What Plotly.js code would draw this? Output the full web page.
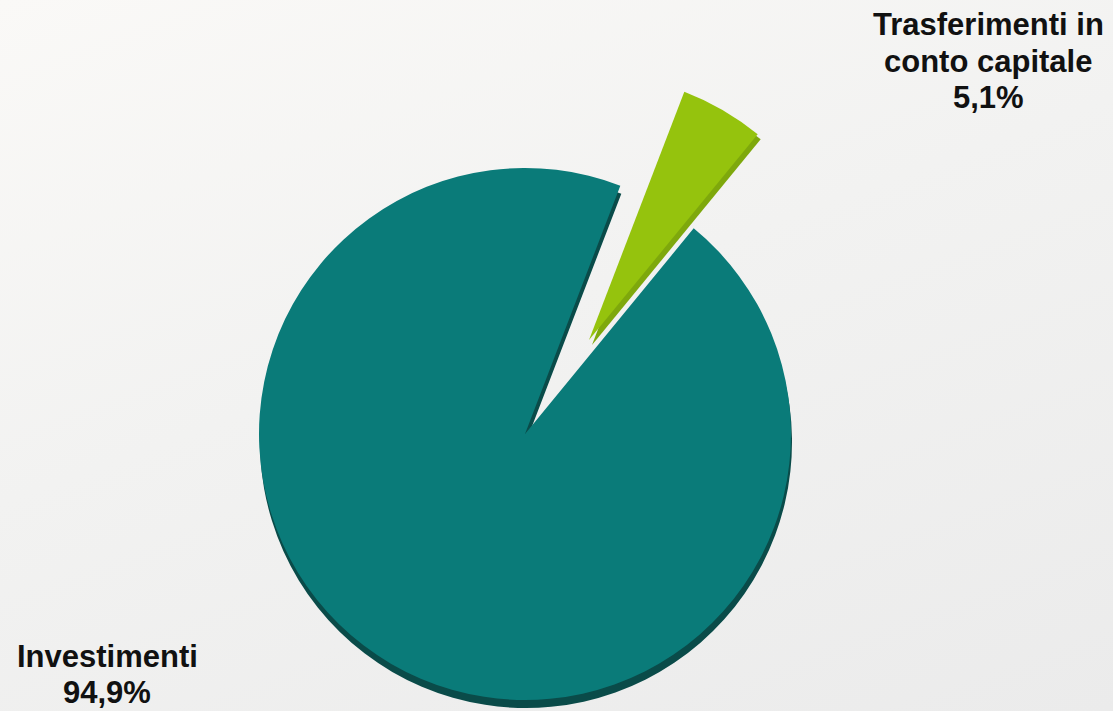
<!DOCTYPE html>
<html>
<head>
<meta charset="utf-8">
<script src="https://cdn.plot.ly/plotly-3.0.1.min.js"></script>
<style>
  html, body { margin: 0; padding: 0; }
  body { background: linear-gradient(160deg, #faf9f7 0%, #f2f2f1 45%, #ebebeb 100%); }
  #chart { width: 1113px; height: 711px; }
</style>
</head>
<body>
<div id="chart"></div>
<script>
// ---- data ----
var categories = ["Trasferimenti in conto capitale", "Investimenti"];
var labelLines = [["Trasferimenti in", "conto capitale"], ["Investimenti"]];
var values = [5.1, 94.9];
var valueLabels = ["5,1%", "94,9%"];

// ---- geometry / style (pixels) ----
var W = 1113, H = 711;
var R = 266;
var mainC = [525, 434];        // centre of the main pie
var pullOff = [64, -94];       // offset of the exploded slice
var rot = 21;

function domainFor(cx, cy, r) {
  return {
    x: [(cx - r) / W, (cx + r) / W],
    y: [1 - (cy + r) / H, 1 - (cy - r) / H]
  };
}

var green = "#95c30d", greenDark = "#7ea80c";
var teal = "#0a7b79", tealDark = "#0a4b49";
var none = "rgba(0,0,0,0)";

function pieTrace(center, colors) {
  return {
    type: "pie",
    labels: categories,
    values: values,
    sort: false,
    direction: "clockwise",
    rotation: rot,
    textinfo: "none",
    hoverinfo: "label+percent",
    showlegend: false,
    marker: { colors: colors, line: { width: 0 } },
    domain: domainFor(center[0], center[1], R)
  };
}

var greenC = [mainC[0] + pullOff[0], mainC[1] + pullOff[1]];

var traces = [
  pieTrace([mainC[0] + 1, mainC[1] + 8], [none, tealDark]),       // depth of main slice
  pieTrace([greenC[0] + 3, greenC[1] + 5], [greenDark, none]),    // depth of exploded slice
  pieTrace(mainC, [none, teal]),
  pieTrace(greenC, [green, none])
];

// ---- labels ----
var font = { family: "Liberation Sans, Arial, sans-serif", size: 31, color: "#111111" };
var labelPos = [
  { x: 988, baselines: [35, 72, 108] },
  { x: 107, baselines: [667, 703] }
];
var annotations = [];
for (var i = 0; i < categories.length; i++) {
  var lines = labelLines[i].concat([valueLabels[i]]);
  for (var j = 0; j < lines.length; j++) {
    annotations.push({
      xref: "paper", yref: "paper",
      x: labelPos[i].x / W,
      y: 1 - (labelPos[i].baselines[j] - 0.346 * font.size) / H,
      xanchor: "center", yanchor: "middle",
      text: "<b>" + lines[j] + "</b>",
      showarrow: false,
      font: font
    });
  }
}

var layout = {
  width: W, height: H,
  margin: { l: 0, r: 0, t: 0, b: 0 },
  paper_bgcolor: none,
  plot_bgcolor: none,
  showlegend: false,
  annotations: annotations
};

Plotly.newPlot("chart", traces, layout, { displayModeBar: false, staticPlot: true });
</script>
</body>
</html>
